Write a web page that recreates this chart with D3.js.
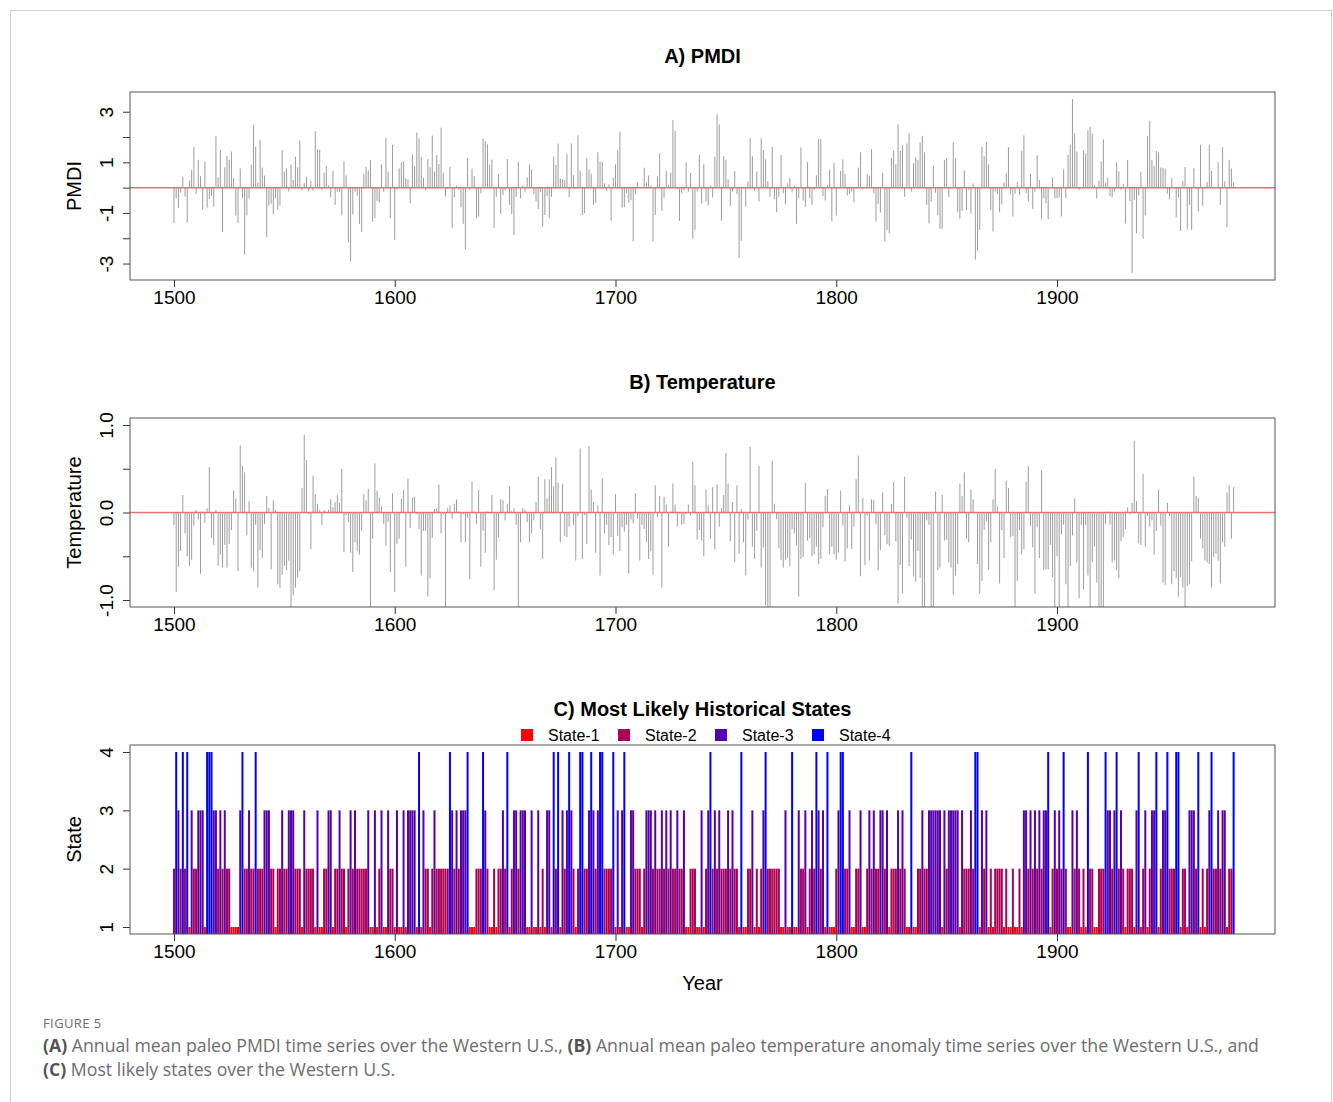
<!DOCTYPE html>
<html>
<head>
<meta charset="utf-8">
<script src="https://cdn.jsdelivr.net/npm/d3@7"></script>
<style>
  body { margin: 0; background: #fff; }
  svg text { font-family: "Liberation Sans", Arial, sans-serif; fill: #000; }
  svg text.cap { font-family: "Open Sans", "Noto Sans", sans-serif; fill: #6d6d6d; }
</style>
</head>
<body>
<svg id="fig" width="1333" height="1102"></svg>
<script>
/*==================================
=            Data                  =
==================================*/

var startYear = 1500;

// Annual mean paleo PMDI, 1500-1980 (one row per decade)
var pmdi = [
  -1.4,-0.42,-0.8,-0.2,0.43,-0.35,-1.38,0.28,0.7,1.6,        // 1500
  -0.26,1.1,0.45,-0.88,1.04,-0.79,-0.45,-0.33,-0.75,2.03,    // 1510
  0.41,1.5,-1.76,0.8,1.25,1.1,1.43,0.37,-1.1,-1.4,           // 1520
  0.76,-0.42,-2.65,-1.1,-0.42,0.91,2.48,1.62,0.2,1.9,        // 1530
  0.79,0.48,-1.96,-0.72,-0.64,-1.04,-0.42,-0.88,-0.71,1.48,  // 1540
  0.64,0.76,-0.16,0.91,0.3,1.22,0.8,1.86,-0.1,0.18,          // 1550
  0.44,-0.15,0.28,-0.13,2.23,1.52,1.49,-0.09,0.6,0.87,       // 1560
  0.08,-0.39,0.67,-0.68,-0.16,-0.18,-1.08,1.04,0.48,-2.17,   // 1570
  -2.92,-1.05,-0.16,-0.32,-1.43,-1.76,0.54,0.83,0.68,1.09,   // 1580
  -1.34,-1.21,-0.53,-0.59,0.92,-0.16,1.97,0.63,-1.21,1.69,   // 1590
  -2.06,-0.09,0.76,1.0,1.04,0.37,0.33,-0.62,1.31,0.84,       // 1600
  2.18,1.95,1.2,0.39,-0.1,1.13,0.8,2.06,0.64,1.29,           // 1610
  0.93,2.37,0.59,-0.35,-0.05,0.83,-1.6,-0.39,0.08,-0.09,     // 1620
  -0.77,-1.43,-2.44,1.16,-0.09,0.75,0.46,-1.21,-1.14,-0.22,  // 1630
  1.94,1.84,1.71,0.91,1.11,-1.6,-0.36,0.54,-1.04,-0.29,      // 1640
  -0.1,1.13,-0.68,-1.04,-1.87,-0.36,1.03,-0.42,0.08,-0.16,   // 1650
  0.41,0.91,0.72,-0.26,-0.55,-0.84,-0.18,-1.54,-1.08,-0.33,  // 1660
  -1.21,-0.36,1.24,0.9,1.75,0.36,0.33,0.3,1.33,-0.39,        // 1670
  1.75,0.49,-0.03,2.07,0.68,-1.08,-1.01,1.16,0.72,0.55,      // 1680
  -0.68,-0.59,1.4,1.04,1.01,0.17,-0.13,0.13,-1.31,0.39,      // 1690
  0.92,1.47,2.21,-0.79,-0.77,-0.22,-0.59,-0.49,-2.13,-0.26,  // 1700
  0.2,0.02,0.01,0.79,0.2,0.48,0.08,-2.13,-1.08,0.45,         // 1710
  1.36,-0.91,-0.39,0.67,0.11,0.59,2.67,2.24,-0.04,-1.31,     // 1720
  -0.22,-0.09,1.0,-0.16,0.58,-2.02,-1.67,-0.16,1.29,-0.62,   // 1730
  0.92,-0.55,-0.71,0.08,-0.39,1.22,2.9,2.5,-1.3,1.24,        // 1740
  1.1,0.33,-0.72,-0.16,0.66,-0.26,-2.78,-2.1,-0.03,-0.75,    // 1750
  0.24,1.96,1.24,-0.13,0.64,-0.55,1.95,1.49,1.12,0.26,       // 1760
  -0.36,1.62,-0.45,-0.97,-0.36,1.29,-0.22,-0.66,0.17,0.39,   // 1770
  -0.18,0.08,-1.43,-0.42,1.58,-0.51,-0.75,1.0,-0.42,-0.68,   // 1780
  -0.09,0.49,1.93,1.93,-0.33,-0.51,0.1,0.72,-1.34,0.98,      // 1790
  -1.1,0.03,0.66,1.12,0.55,-0.31,-0.26,-0.16,-0.58,-0.03,    // 1800
  0.79,1.4,-0.06,0.02,0.55,0.48,1.52,-0.22,-1.34,-0.64,      // 1810
  -0.98,0.59,-2.13,-1.67,-1.8,1.18,1.47,0.92,2.5,1.46,       // 1820
  1.67,-0.36,1.74,2.14,-0.16,0.96,1.2,1.09,1.78,2.05,        // 1830
  1.4,-0.68,-1.41,-0.55,0.87,-0.2,-1.08,-1.63,-1.63,1.1,     // 1840
  1.17,-0.37,0.02,1.79,1.17,-0.97,-1.23,-0.92,0.68,-0.88,    // 1850
  -0.09,-1.03,0.16,-2.85,-2.5,-1.67,1.62,1.24,1.81,0.92,     // 1860
  -0.88,-1.73,-0.16,-0.26,-0.97,-0.66,0.2,0.57,1.6,-0.26,    // 1870
  -1.14,-0.24,0.22,-0.29,1.45,2.06,-0.22,-0.55,0.55,-0.84,   // 1880
  -0.16,1.28,0.3,-1.25,-0.42,-0.62,-1.25,0.03,0.41,-0.42,    // 1890
  -0.42,-0.39,-1.14,0.72,-0.42,1.3,1.7,3.5,2.14,1.43,        // 1900
  -0.09,0.03,1.48,1.35,2.27,2.41,2.14,0.1,-0.42,0.28,        // 1910
  1.03,1.91,0.2,0.39,-0.33,-0.39,-0.16,1.0,0.64,-0.09,       // 1920
  0.14,-1.41,1.09,-0.53,-3.37,-0.49,-1.8,-0.31,0.63,-2.02,   // 1930
  -1.1,2.04,2.64,1.09,0.86,1.45,1.4,0.79,0.78,0.76,          // 1940
  -0.24,-0.45,0.39,-0.03,-1.18,-0.39,-1.71,0.26,0.82,-1.64,  // 1950
  -0.68,-1.67,0.76,-0.03,-0.94,1.69,-0.71,0.02,0.22,1.7,     // 1960
  0.67,0.02,0.03,1.0,-0.68,1.59,0.25,-1.57,1.1,0.76,         // 1970
  0.21                                                       // 1980
];

// Annual mean paleo temperature anomaly, 1500-1980
var temperature = [
  -0.14,-0.91,-0.62,-0.44,0.2,-0.24,-0.5,-0.61,-0.54,-0.15,  // 1500
  0.03,-0.08,-0.7,0.01,-0.12,0.05,0.52,-0.29,-0.37,0.03,     // 1510
  -0.61,-0.48,-0.63,-0.37,-0.63,-0.36,-0.2,0.25,0.16,-0.67,  // 1520
  0.77,0.53,0.46,-0.26,0.13,-0.63,-0.67,-0.14,-0.86,-0.43,   // 1530
  -0.52,-0.13,0.19,0.05,-0.65,0.14,0.03,-0.82,-0.86,-0.71,   // 1540
  -0.61,-0.66,-0.55,-1.1,-0.95,-0.86,-0.74,-0.67,0.28,0.89,  // 1550
  0.6,-0.02,-0.42,0.42,0.21,0.1,0.03,-0.14,0.03,0.01,        // 1560
  0.03,0.15,0.06,0.12,0.2,0.11,0.5,-0.45,-0.03,-0.11,        // 1570
  -0.46,-0.68,-0.34,-0.44,-0.48,-0.21,0.21,0.14,0.27,-1.1,   // 1580
  -0.3,0.56,0.25,0.17,0.07,-0.13,-0.38,-0.11,-0.68,0.22,     // 1590
  -0.91,-0.36,-0.3,0.16,0.26,-0.62,0.39,-0.18,0.17,0.18,     // 1600
  -0.02,-0.19,-0.72,-0.21,-0.21,-0.96,-0.75,-0.29,0.04,0.05, // 1610
  0.32,-0.24,-0.02,-1.1,0.05,0.08,-0.07,0.1,0.15,0.01,       // 1620
  -0.34,-0.02,-0.34,-0.06,-0.76,0.35,0.01,-0.13,0.26,-0.62,  // 1630
  -0.21,-0.46,0.01,-0.01,0.2,-0.89,-0.54,-0.29,0.15,0.14,    // 1640
  -0.09,0.1,0.3,0.02,0.05,-0.14,-1.1,-0.34,0.05,0.03,        // 1650
  -0.11,-0.34,-0.24,-0.09,0.12,0.41,-0.19,-0.53,0.38,0.16,   // 1660
  0.38,0.52,0.3,0.63,0.34,-0.34,0.33,-0.27,-0.28,-0.16,      // 1670
  0.01,-0.14,-0.55,-0.04,0.73,-0.53,-0.03,-0.36,0.76,0.26,   // 1680
  0.12,-0.46,0.08,-0.72,0.39,-0.24,-0.14,-0.37,-0.28,-0.48,  // 1690
  0.21,-0.27,-0.44,-0.17,-0.22,-0.14,-0.7,-0.08,-0.12,0.22,  // 1700
  -0.07,-0.55,-0.14,-0.19,-0.34,-0.53,-0.44,-0.71,0.31,-0.05,// 1710
  0.19,-0.86,0.18,0.09,-0.39,0.01,0.33,0.09,-0.16,-0.01,     // 1720
  -0.14,-0.13,-0.02,0.09,-0.03,0.58,0.31,-0.31,-0.2,-0.32,   // 1730
  -0.5,0.26,0.08,-0.3,0.29,-0.42,0.32,-0.16,0.05,0.2,        // 1740
  0.68,0.33,-0.33,0.12,-0.57,0.31,-0.47,0.04,-0.34,-0.72,    // 1750
  -0.08,0.75,-0.39,-0.53,-0.21,0.53,-0.63,-0.4,-1.06,-1.1,   // 1760
  -1.1,0.59,0.1,-0.08,-0.41,-0.54,-0.63,-0.54,-0.52,-0.61,   // 1770
  -0.19,-0.24,-0.38,-0.96,-0.53,-0.51,0.34,-0.32,-0.29,-0.5, // 1780
  -0.48,-0.39,-0.59,-0.53,-0.17,0.19,0.27,-0.48,-0.39,-0.48, // 1790
  -0.54,-0.46,0.25,-0.15,-0.56,-0.41,0.08,-0.42,-0.16,0.38,  // 1800
  0.65,-0.73,0.17,-0.6,-0.04,-0.55,0.15,0.14,-0.13,-0.66,    // 1810
  -0.43,0.23,-0.26,-0.36,-0.38,0.1,0.35,-0.33,-1.04,-0.6,    // 1820
  -0.92,0.41,-0.06,-0.61,-0.31,-0.73,-0.79,-0.44,-0.75,-1.1, // 1830
  -1.1,-0.09,-0.14,-1.1,-1.1,0.24,-0.66,-0.63,0.2,-0.32,     // 1840
  -0.31,-0.57,-0.63,-0.94,-0.72,-0.59,0.33,0.19,0.46,-0.3,   // 1850
  -0.34,0.26,0.15,0.0,-0.59,-0.93,-0.78,-0.2,-0.1,-0.65,     // 1860
  -0.34,0.15,0.5,0.07,-0.81,-0.2,-0.52,0.36,0.28,-0.28,      // 1870
  -0.27,-1.1,-0.78,-0.2,-0.48,-0.42,0.35,0.53,-0.15,-0.4,    // 1880
  -0.93,-0.17,-0.52,0.48,-0.66,-0.65,-0.65,-0.37,-0.74,-1.1, // 1890
  -0.5,-1.1,-0.25,-0.14,-0.82,-1.1,-0.61,-0.26,0.16,-0.57,   // 1900
  -0.98,-0.14,-0.88,-0.14,-0.72,-1.1,-0.57,-0.39,-0.8,-1.1,  // 1910
  -1.1,-1.1,-0.13,0.01,-0.14,-0.57,-0.55,-0.66,-0.75,-0.33,  // 1920
  -0.28,-0.19,0.06,-0.02,0.11,0.82,0.13,-0.35,-0.37,0.44,    // 1930
  -0.39,-0.04,-0.16,-0.09,-0.48,-0.21,0.26,-0.15,-0.8,-0.83, // 1940
  0.11,-0.04,-0.82,-0.67,-0.75,-0.96,-0.74,-0.86,-1.1,-0.84, // 1950
  -0.82,-0.56,0.41,0.19,0.17,-0.3,-0.41,-0.55,-0.57,-0.59,   // 1960
  -0.86,-0.51,-0.47,-0.55,-0.81,-0.34,-0.39,0.23,0.31,-0.3,  // 1970
  0.29                                                       // 1980
];

// Most likely historical state, 1500-1980
var states = [
  2,4,3,2,4,2,4,1,3,2, // 1500
  2,3,3,3,1,4,4,4,3,3, // 1510
  2,3,2,3,2,2,1,1,1,1, // 1520
  3,4,2,2,3,2,2,4,2,2, // 1530
  2,3,3,3,2,2,1,2,2,3, // 1540
  2,2,3,3,3,2,2,2,1,3, // 1550
  2,2,2,2,1,3,1,1,2,2, // 1560
  3,3,1,2,2,3,2,2,1,2, // 1570
  3,2,3,2,2,2,2,2,3,1, // 1580
  1,3,1,2,3,1,1,3,2,2, // 1590
  1,3,1,1,3,1,3,3,3,3, // 1600
  1,4,1,3,2,2,1,2,3,2, // 1610
  2,2,2,2,2,4,3,2,3,2, // 1620
  3,3,3,4,1,1,1,2,2,2, // 1630
  4,3,2,1,1,2,1,2,2,3, // 1640
  2,4,1,2,3,3,2,3,3,3, // 1650
  1,1,3,1,1,3,1,2,1,3, // 1660
  3,1,4,2,4,1,3,2,3,4, // 1670
  3,2,1,2,4,4,2,2,3,4, // 1680
  3,2,3,4,4,2,2,2,2,4, // 1690
  1,3,1,3,4,1,1,3,3,2, // 1700
  2,2,1,2,3,3,3,2,3,2, // 1710
  2,3,2,3,2,3,2,2,3,2, // 1720
  2,3,1,1,2,2,2,1,1,3, // 1730
  1,2,3,4,2,3,2,3,2,2, // 1740
  2,3,2,3,2,2,1,4,1,1, // 1750
  2,2,3,1,2,1,2,3,4,2, // 1760
  2,2,2,2,2,1,1,3,1,1, // 1770
  4,1,1,3,2,2,3,1,2,3, // 1780
  2,4,3,2,3,1,4,1,1,1, // 1790
  2,3,4,4,2,2,3,1,1,2, // 1800
  2,3,1,1,2,3,2,3,2,2, // 1810
  3,3,2,3,1,2,2,2,3,2, // 1820
  3,2,1,1,4,1,1,2,2,3, // 1830
  2,2,3,3,3,3,3,3,1,3, // 1840
  2,3,3,3,3,3,1,3,2,2, // 1850
  2,3,2,4,4,1,3,2,3,1, // 1860
  2,1,2,2,2,2,1,2,1,1, // 1870
  2,1,1,2,1,3,3,2,3,2, // 1880
  3,2,3,2,3,3,4,1,2,3, // 1890
  2,3,2,4,2,1,1,3,2,3, // 1900
  2,1,2,1,4,2,2,1,1,2, // 1910
  2,2,4,3,3,2,3,4,2,3, // 1920
  2,1,2,2,2,1,3,4,1,2, // 1930
  3,1,2,3,3,4,1,2,3,3, // 1940
  4,2,2,2,4,4,1,2,2,1, // 1950
  3,3,3,2,4,1,2,1,2,3, // 1960
  4,2,2,3,2,3,3,1,2,2, // 1970
  4                    // 1980
];

var stateNames  = ["State-1", "State-2", "State-3", "State-4"];
var stateColors = ["#FF0000", "#AA0055", "#5500AA", "#0000FF"];

var xTicks     = [1500, 1600, 1700, 1800, 1900];
var pmdiTicks  = [-3, -2, -1, 0, 1, 2, 3];
var pmdiLabels = [-3, -1, 1, 3];
var tempTicks  = [-1, -0.5, 0, 0.5, 1];
var tempLabels = [-1, 0, 1];
var stateTicks = [1, 2, 3, 4];

/*==================================
=            Drawing               =
==================================*/

var svg = d3.select("#fig");
var left = 130, right = 1275;

// outer figure frame
svg.append("rect")
    .attr("x", 10.5).attr("y", 10.5)
    .attr("width", 1321).attr("height", 1110)
    .attr("fill", "none")
    .attr("stroke", "#cfcfcf");

var x = d3.scaleLinear()
    .domain([1480.07, 1998.75])
    .range([left, right]);

function yearOf(i) { return startYear + i; }

// R prints a plain hyphen for negatives, not the unicode minus d3 uses
function plain(s) { return String(s).replace("\u2212", "-"); }

// Draws one panel: axes, titles. Returns the y scale and a clipped group.
function drawPanel(cfg) {
    var y = d3.scaleLinear().domain(cfg.domain).range([cfg.bottom, cfg.top]);
    var g = svg.append("g");

    var clipId = "clip-" + cfg.id;
    svg.append("clipPath").attr("id", clipId)
        .append("rect")
        .attr("x", left).attr("y", cfg.top)
        .attr("width", right - left).attr("height", cfg.bottom - cfg.top);

    var marks = g.append("g").attr("clip-path", "url(#" + clipId + ")");

    // x axis
    var xa = g.append("g")
        .attr("transform", "translate(0," + cfg.bottom + ")")
        .call(d3.axisBottom(x).tickValues(xTicks).tickSize(7).tickPadding(4).tickFormat(d3.format("d")));
    xa.select(".domain").remove();
    xa.selectAll("line").attr("stroke", "#333");
    xa.selectAll("text").attr("font-size", 19).attr("fill", "#000")
        .style("font-family", "'Liberation Sans', Arial, sans-serif");

    // y axis, labels parallel to the axis as in base R
    var ya = g.append("g")
        .attr("transform", "translate(" + left + ",0)")
        .call(d3.axisLeft(y).tickValues(cfg.ticks).tickSize(7)
            .tickFormat(function(d) { return cfg.labels.indexOf(d) >= 0 ? plain(cfg.fmt(d)) : ""; }));
    ya.select(".domain").remove();
    ya.selectAll("line").attr("stroke", "#333");
    ya.selectAll("text")
        .attr("x", null).attr("dy", null)
        .attr("text-anchor", "middle")
        .attr("transform", "translate(-17.5,0) rotate(-90)")
        .attr("font-size", 19).attr("fill", "#000")
        .style("font-family", "'Liberation Sans', Arial, sans-serif");

    // title and y label
    g.append("text")
        .attr("x", (left + right) / 2).attr("y", cfg.top - 29)
        .attr("text-anchor", "middle")
        .attr("font-size", 20).attr("font-weight", "bold")
        .text(cfg.title);
    g.append("text")
        .attr("transform", "translate(81," + ((cfg.top + cfg.bottom) / 2) + ") rotate(-90)")
        .attr("text-anchor", "middle")
        .attr("font-size", 20)
        .text(cfg.ylab);

    return { y: y, g: g, marks: marks, cfg: cfg };
}

function drawBox(p) {
    p.g.append("rect")
        .attr("x", left).attr("y", p.cfg.top)
        .attr("width", right - left).attr("height", p.cfg.bottom - p.cfg.top)
        .attr("fill", "none").attr("stroke", "#555").attr("stroke-width", 1);
}

// grey "type h" spikes with a red zero line
function drawSpikes(p, values) {
    p.marks.selectAll("line.spike")
        .data(values)
        .join("line")
        .attr("class", "spike")
        .attr("x1", function(d, i) { return x(yearOf(i)); })
        .attr("x2", function(d, i) { return x(yearOf(i)); })
        .attr("y1", p.y(0))
        .attr("y2", function(d) { return p.y(d); })
        .attr("stroke", "#9c9c9c")
        .attr("stroke-width", 1);

    p.marks.append("line")
        .attr("x1", left).attr("x2", right)
        .attr("y1", p.y(0)).attr("y2", p.y(0))
        .attr("stroke", "#ee6f6f")
        .attr("stroke-width", 1.5);
    drawBox(p);
}

// Panel A
var pA = drawPanel({
    id: "a", title: "A) PMDI", ylab: "PMDI",
    top: 92, bottom: 280, domain: [-3.65, 3.78],
    ticks: pmdiTicks, labels: pmdiLabels, fmt: function(d) { return String(d); }
});
drawSpikes(pA, pmdi);

// Panel B
var pB = drawPanel({
    id: "b", title: "B) Temperature", ylab: "Temperature",
    top: 418, bottom: 607, domain: [-1.08, 1.08],
    ticks: tempTicks, labels: tempLabels, fmt: d3.format(".1f")
});
drawSpikes(pB, temperature);

// Panel C
var pC = drawPanel({
    id: "c", title: "C) Most Likely Historical States", ylab: "State",
    top: 745, bottom: 934, domain: [0.88, 4.12],
    ticks: stateTicks, labels: stateTicks, fmt: function(d) { return String(d); }
});

pC.marks.selectAll("line.state")
    .data(states)
    .join("line")
    .attr("class", "state")
    .attr("x1", function(d, i) { return x(yearOf(i)); })
    .attr("x2", function(d, i) { return x(yearOf(i)); })
    .attr("y1", pC.y(0))
    .attr("y2", function(d) { return pC.y(d); })
    .attr("stroke", function(d) { return stateColors[d - 1]; })
    .attr("stroke-width", 2);
drawBox(pC);

// legend above panel C
var legend = svg.append("g").selectAll("g")
    .data(stateNames)
    .join("g")
    .attr("transform", function(d, i) { return "translate(" + (521 + i * 97) + ",729)"; });
legend.append("rect")
    .attr("width", 12).attr("height", 12)
    .attr("fill", function(d, i) { return stateColors[i]; });
legend.append("text")
    .attr("x", 27).attr("y", 12)
    .attr("font-size", 16)
    .text(function(d) { return d; });

// x label
svg.append("text")
    .attr("x", (left + right) / 2).attr("y", 990)
    .attr("text-anchor", "middle")
    .attr("font-size", 20)
    .text("Year");

/*==================================
=            Caption               =
==================================*/

svg.append("text")
    .attr("class", "cap")
    .attr("x", 43).attr("y", 1028)
    .attr("font-size", 13)
    .attr("letter-spacing", 0.4)
    .text("FIGURE 5");

var capLines = [
    [["(A)", true], [" Annual mean paleo PMDI time series over the Western U.S., ", false],
     ["(B)", true], [" Annual mean paleo temperature anomaly time series over the Western U.S., and", false]],
    [["(C)", true], [" Most likely states over the Western U.S.", false]]
];

capLines.forEach(function(line, k) {
    var t = svg.append("text")
        .attr("class", "cap")
        .attr("x", 43).attr("y", 1052 + k * 24)
        .attr("font-size", 17.7);
    line.forEach(function(part) {
        t.append("tspan")
            .attr("font-weight", part[1] ? "bold" : "normal")
            .style("fill", part[1] ? "#555" : "#6d6d6d")
            .text(part[0]);
    });
});
</script>
</body>
</html>
